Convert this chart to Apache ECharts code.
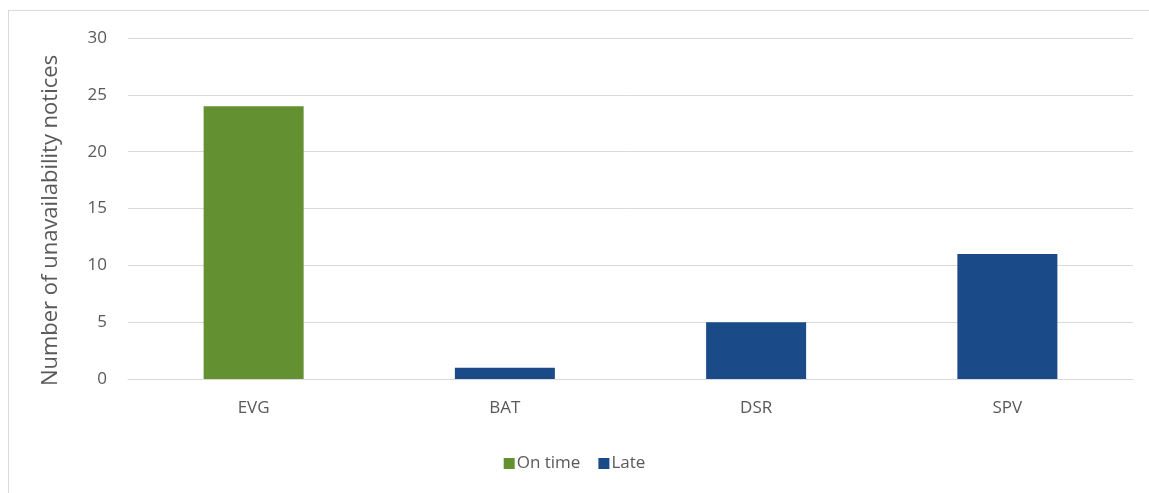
<!DOCTYPE html>
<html>
<head>
<meta charset="utf-8">
<script src="https://cdn.jsdelivr.net/npm/echarts@6/dist/echarts.min.js"></script>
<style>
  html, body { margin: 0; padding: 0; background: #fff; }
  #frame { position: absolute; left: 8px; top: 10px; width: 1141px; height: 483px;
           border-left: 1px solid #d9d9d9; border-top: 1px solid #d9d9d9; box-sizing: border-box; }
  #chart { width: 1149px; height: 493px; }
</style>
</head>
<body>
<div id="frame"></div>
<div id="chart"></div>
<script>
  // data
  const categories = ['EVG', 'BAT', 'DSR', 'SPV'];
  const onTime = [24, '-', '-', '-'];
  const late = ['-', 1, 5, 11];
  const yTicks = [0, 5, 10, 15, 20, 25, 30];

  const fontFamily = '"Open Sans", "Noto Sans", sans-serif';
  const labelColor = '#595959';

  let myChart = echarts.init(document.getElementById('chart'));
  myChart.setOption({
    animation: false,
    color: ['#639031', '#1b4a89'],
    grid: {
      left: 128,
      right: 16,
      top: 38,
      bottom: 114
    },
    legend: {
      bottom: 16,
      left: 'center',
      itemWidth: 11,
      itemHeight: 11,
      itemGap: 18,
      icon: 'rect',
      textStyle: {
        color: labelColor,
        fontSize: 17,
        fontFamily: fontFamily,
        padding: [0, 0, 0, -3]
      },
      data: ['On time', 'Late']
    },
    xAxis: {
      type: 'category',
      data: categories,
      axisTick: { show: false },
      axisLine: {
        lineStyle: { color: '#d9d9d9', width: 1 }
      },
      axisLabel: {
        color: labelColor,
        fontSize: 17,
        fontFamily: fontFamily,
        margin: 21
      }
    },
    yAxis: {
      type: 'value',
      min: yTicks[0],
      max: yTicks[yTicks.length - 1],
      interval: 5,
      name: 'Number of unavailability notices',
      nameLocation: 'middle',
      nameGap: 66,
      nameTextStyle: {
        color: labelColor,
        fontSize: 22,
        fontFamily: fontFamily,
        padding: [0, 24, 0, 0]
      },
      axisLine: { show: false },
      axisTick: { show: false },
      axisLabel: {
        color: labelColor,
        fontSize: 17,
        fontFamily: fontFamily,
        margin: 21
      },
      splitLine: {
        lineStyle: { color: '#d9d9d9', width: 1 }
      }
    },
    series: [{
      name: 'On time',
      type: 'bar',
      stack: 'total',
      barWidth: 100,
      data: onTime
    }, {
      name: 'Late',
      type: 'bar',
      stack: 'total',
      barWidth: 100,
      data: late
    }]
  });
</script>
</body>
</html>
